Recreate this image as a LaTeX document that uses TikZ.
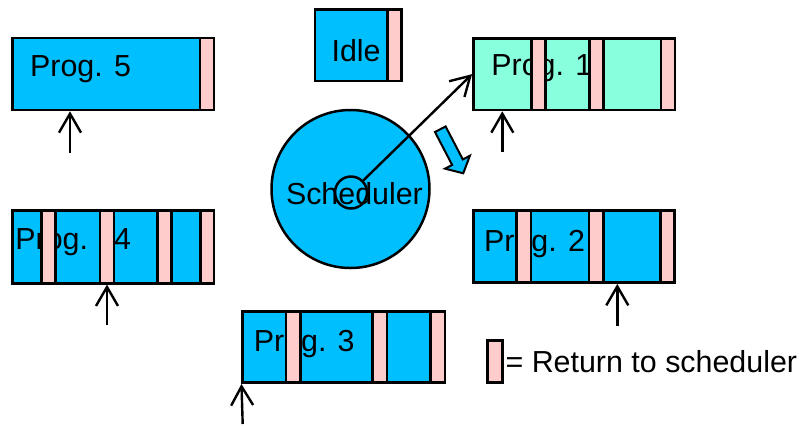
\documentclass[tikz,border=0pt]{standalone}
\usepackage{fontspec}
\setmainfont{Liberation Sans}
\usetikzlibrary{arrows.meta,fit}
\definecolor{progblue}{RGB}{0,191,255}
\definecolor{retpink}{RGB}{255,204,204}
\definecolor{aquagreen}{RGB}{136,255,221}
\begin{document}
\begin{tikzpicture}[x=0.5pt,y=-0.5pt,
  box/.style={draw, line width=1.25pt, fill=progblue, inner sep=0pt},
  strip/.style={draw, line width=1.25pt, fill=retpink},
  lbl/.style={anchor=base west, inner sep=0pt, font=\fontsize{15.2}{18}\selectfont},
  ptr/.style={line width=1.2pt, -{Straight Barb[length=9.5pt,width=11pt,line width=1.2pt]}}]
\useasboundingbox (0,0) rectangle (803,425);

% Prog. 5
\node[box, fit={(12.5,38)(214,110)}] (p5) {};
\node[lbl] (t5) at (29.7,76) {Prog. 5};
\draw[strip] (200,38) rectangle (214,110);
\coordinate (a5) at (70,153);
\draw[ptr] (a5) -- (a5 |- p5.south);

% Idle
\node[box, fit={(315,9.5)(401.5,81)}] (idle) {};
\node[lbl] (ti) at (331.2,61) {Idle};
\draw[strip] (387.5,9.5) rectangle (401.5,81);

% Prog. 1
\node[box, fill=aquagreen, fit={(473.3,38.3)(675,110)}] (p1) {};
\node[lbl] (t1) at (491,75) {Prog. 1};
\draw[strip] (531.7,38.3) rectangle (545.7,110);
\draw[strip] (589.3,38.3) rectangle (603.3,110);
\draw[strip] (661,38.3) rectangle (675,110);
\coordinate (a1) at (502.3,152);
\draw[ptr] (a1) -- (a1 |- p1.south);

% Prog. 4
\node[box, fit={(12.7,210.7)(214,283.3)}] (p4) {};
\node[lbl] (t4) at (15,249.3) {Prog.\hspace{13pt}4};
\draw[strip] (41.7,210.7) rectangle (55.7,283.3);
\draw[strip] (100,210.7) rectangle (114,283.3);
\draw[strip] (157.3,210.7) rectangle (171.3,283.3);
\draw[strip] (200.7,210.7) rectangle (214,283.3);
\coordinate (a4) at (107,325);
\draw[ptr] (a4) -- (a4 |- p4.south);

% Prog. 2
\node[box, fit={(473.3,210.7)(674.3,282.7)}] (p2) {};
\node[lbl] (t2) at (483.7,251.7) {Prog. 2};
\draw[strip] (516.7,210.7) rectangle (531,282.7);
\draw[strip] (589,210.7) rectangle (603.3,282.7);
\draw[strip] (660.3,210.7) rectangle (674.3,282.7);
\coordinate (a2) at (617.3,326);
\draw[ptr] (a2) -- (a2 |- p2.south);

% Prog. 3
\node[box, fit={(242.7,311.7)(445,382.7)}] (p3) {};
\node[lbl] (t3) at (253.4,351.7) {Prog. 3};
\draw[strip] (286,311.7) rectangle (300.7,382.7);
\draw[strip] (372.7,311.7) rectangle (387,382.7);
\draw[strip] (430.7,311.7) rectangle (445,382.7);
\coordinate (a3) at (242.7,424);
\draw[ptr] (a3) -- (p3.south west);

% Scheduler
\node[circle, draw, line width=1.25pt, fill=progblue, minimum size=79pt, inner sep=0pt] (sched) at (350.5,189) {};
\node[lbl] (ts) at (285.6,204) {Scheduler};
\node[circle, draw, line width=1.25pt, minimum size=16pt, inner sep=0pt] (hub) at (351,192.5) {};
\draw[ptr] (hub) -- (p1.west);

% Blue block arrow
\begin{scope}[shift={(440.3,129.2)}, rotate=-62.5]
  \draw[line width=1pt, fill=progblue] (0,-6) -- (37.2,-6) -- (37.2,-14) -- (49.7,0) -- (37.2,14) -- (37.2,6) -- (0,6) -- cycle;
\end{scope}

% Legend
\node[strip, inner sep=0pt, fit={(487.7,340.7)(502.7,382.7)}] (key) {};
\node[lbl] (tk) at (505.2,372.7) {= Return to scheduler};
\end{tikzpicture}
\end{document}
